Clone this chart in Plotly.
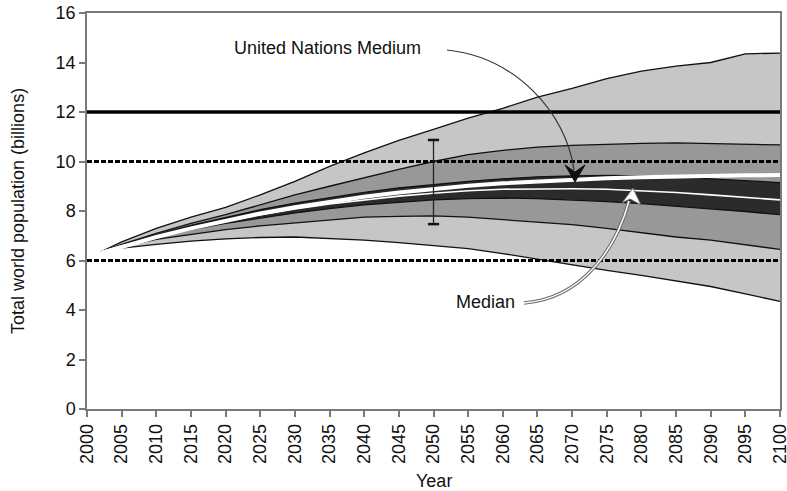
import plotly.graph_objects as go

# Projection years and quantile envelopes of total world population (billions)
years = [2002, 2005, 2010, 2015, 2020, 2025, 2030, 2035, 2040, 2045, 2050,
         2055, 2060, 2065, 2070, 2075, 2080, 2085, 2090, 2095, 2100]

outer_upper = [6.35, 6.75, 7.30, 7.75, 8.15, 8.65, 9.20, 9.80, 10.35, 10.85, 11.30,
               11.75, 12.15, 12.60, 12.95, 13.35, 13.65, 13.85, 14.00, 14.35, 14.38]
outer_lower = [6.35, 6.50, 6.65, 6.78, 6.87, 6.93, 6.95, 6.90, 6.82, 6.72, 6.60,
               6.48, 6.28, 6.05, 5.80, 5.60, 5.40, 5.17, 4.95, 4.65, 4.35]
middle_upper = [6.35, 6.65, 7.10, 7.50, 7.85, 8.25, 8.65, 9.00, 9.35, 9.68, 10.00,
                10.28, 10.45, 10.58, 10.65, 10.70, 10.73, 10.75, 10.72, 10.70, 10.67]
middle_lower = [6.35, 6.55, 6.85, 7.05, 7.25, 7.40, 7.52, 7.65, 7.75, 7.78, 7.80,
                7.75, 7.65, 7.55, 7.45, 7.30, 7.12, 6.95, 6.82, 6.65, 6.45]
inner_upper = [6.35, 6.62, 7.05, 7.42, 7.75, 8.05, 8.32, 8.55, 8.75, 8.93, 9.08,
               9.20, 9.30, 9.38, 9.42, 9.44, 9.42, 9.38, 9.30, 9.22, 9.15]
inner_lower = [6.35, 6.58, 6.92, 7.25, 7.50, 7.72, 7.92, 8.10, 8.25, 8.35, 8.45,
               8.50, 8.52, 8.50, 8.45, 8.38, 8.30, 8.20, 8.10, 7.98, 7.85]
median = [6.35, 6.60, 6.95, 7.30, 7.60, 7.85, 8.08, 8.28, 8.45, 8.60, 8.72,
          8.82, 8.88, 8.90, 8.90, 8.88, 8.83, 8.75, 8.65, 8.55, 8.45]
un_medium = [6.30, 6.55, 6.95, 7.30, 7.62, 7.90, 8.15, 8.38, 8.58, 8.75, 8.90,
             9.02, 9.12, 9.20, 9.27, 9.32, 9.36, 9.40, 9.42, 9.44, 9.45]

# Horizontal reference levels
solid_level = 12
dashed_levels = [10, 6]

# Range bar drawn at 2050
range_bar_year = 2050
range_bar_low = 7.47
range_bar_high = 10.87

x_ticks = list(range(2000, 2101, 5))
y_ticks = list(range(0, 17, 2))

FONT = "Arial, Liberation Sans, sans-serif"
TEXT = "#111111"

# Plot-area geometry (pixels) used to place the curved pointer arrows
L, R, T, B = 87, 780, 13, 409
X_MIN, X_MAX, Y_MIN, Y_MAX = 2000, 2100, 0, 16


def to_xy(px, py):
    x = X_MIN + (px - L) / (R - L) * (X_MAX - X_MIN)
    y = Y_MIN + (B - py) / (B - T) * (Y_MAX - Y_MIN)
    return x, y


def path(cmds, close=False):
    out = []
    for c in cmds:
        op, pts = c[0], c[1:]
        out.append(op + " " + " ".join("%.3f,%.4f" % to_xy(*p) for p in pts))
    return " ".join(out) + (" Z" if close else "")


fig = go.Figure()


def band(upper, lower, color):
    fig.add_trace(go.Scatter(
        x=years + years[::-1], y=upper + lower[::-1],
        fill="toself", fillcolor=color, mode="lines",
        line=dict(width=0), hoverinfo="skip"))


band(outer_upper, outer_lower, "#c6c6c6")
band(middle_upper, middle_lower, "#989898")
band(inner_upper, inner_lower, "#2b2b2b")

for edge in (outer_upper, outer_lower, middle_upper, middle_lower, inner_upper, inner_lower):
    fig.add_trace(go.Scatter(x=years, y=edge, mode="lines",
                             line=dict(color="#111111", width=1.3), hoverinfo="skip"))

# UN medium variant (thick white) and median (thin white)
fig.add_trace(go.Scatter(x=years, y=un_medium, mode="lines",
                         line=dict(color="white", width=4), hoverinfo="skip"))
fig.add_trace(go.Scatter(x=years, y=median, mode="lines",
                         line=dict(color="white", width=1.6), hoverinfo="skip"))

# Reference levels
fig.add_trace(go.Scatter(x=[X_MIN, X_MAX], y=[solid_level, solid_level], mode="lines",
                         line=dict(color="black", width=3.5), hoverinfo="skip"))
for lvl in dashed_levels:
    fig.add_trace(go.Scatter(x=[X_MIN, X_MAX], y=[lvl, lvl], mode="lines",
                             line=dict(color="black", width=3, dash="5px,2px"),
                             hoverinfo="skip"))

# Range bar with caps
fig.add_trace(go.Scatter(x=[range_bar_year, range_bar_year],
                         y=[range_bar_low, range_bar_high], mode="lines+markers",
                         line=dict(color="#222222", width=1.3),
                         marker=dict(symbol="line-ew", size=8,
                                     line=dict(color="#111111", width=2.5)),
                         hoverinfo="skip"))

pointer_un = [("M", (447, 50)), ("C", (515, 57), (566, 112), (574, 170))]
pointer_median = [("M", (524, 303)), ("C", (585, 298), (617, 245), (629, 201))]

shapes = [
    # pointer for the UN medium line
    dict(type="path", layer="above", path=path(pointer_un),
         line=dict(color="#333333", width=1.2)),
    dict(type="path", layer="above",
         path=path([("M", (575, 182)), ("L", (565, 165)), ("L", (575, 172)),
                    ("L", (585, 165))], close=True),
         fillcolor="#111111", line=dict(color="#111111", width=1)),
    # pointer for the median line (outlined double stroke)
    dict(type="path", layer="above", path=path(pointer_median),
         line=dict(color="#6e6e6e", width=3.6)),
    dict(type="path", layer="above", path=path(pointer_median),
         line=dict(color="white", width=1.4)),
    dict(type="path", layer="above",
         path=path([("M", (633, 188)), ("L", (622, 203)), ("L", (630, 199)),
                    ("L", (641, 205))], close=True),
         fillcolor="white", line=dict(color="#666666", width=1)),
]

un_x, un_y = to_xy(327, 48)
med_x, med_y = to_xy(485, 302)

annotations = [
    dict(text="United Nations Medium", x=un_x, y=un_y, xref="x", yref="y",
         showarrow=False, font=dict(family=FONT, size=18, color=TEXT)),
    dict(text="Median", x=med_x, y=med_y, xref="x", yref="y",
         showarrow=False, font=dict(family=FONT, size=18, color=TEXT)),
    dict(text="Total world population (billions)", x=(18 - L) / (R - L), y=0.5,
         xref="paper", yref="paper", textangle=-90, showarrow=False,
         xanchor="center", yanchor="middle",
         font=dict(family=FONT, size=18, color=TEXT)),
    dict(text="Year", x=0.5, y=(B - 481) / (B - T), xref="paper", yref="paper",
         showarrow=False, xanchor="center", yanchor="middle",
         font=dict(family=FONT, size=18, color=TEXT)),
]

axis_common = dict(showgrid=False, zeroline=False, showline=True, mirror=True,
                   linecolor="#7a7a7a", linewidth=1.5, ticks="outside", ticklen=6,
                   tickcolor="#7a7a7a", tickwidth=1.5, ticklabeloverflow="allow",
                   automargin=False,
                   tickfont=dict(family=FONT, size=18, color=TEXT))

fig.update_layout(
    width=787, height=491,
    margin=dict(l=L, r=787 - R, t=T, b=491 - B, autoexpand=False),
    paper_bgcolor="white", plot_bgcolor="white",
    showlegend=False,
    xaxis=dict(range=[X_MIN, X_MAX], tickvals=x_ticks, tickangle=-90, **axis_common),
    yaxis=dict(range=[Y_MIN, Y_MAX], tickvals=y_ticks, **axis_common),
    shapes=shapes,
    annotations=annotations,
)

fig.write_html("out.html")
